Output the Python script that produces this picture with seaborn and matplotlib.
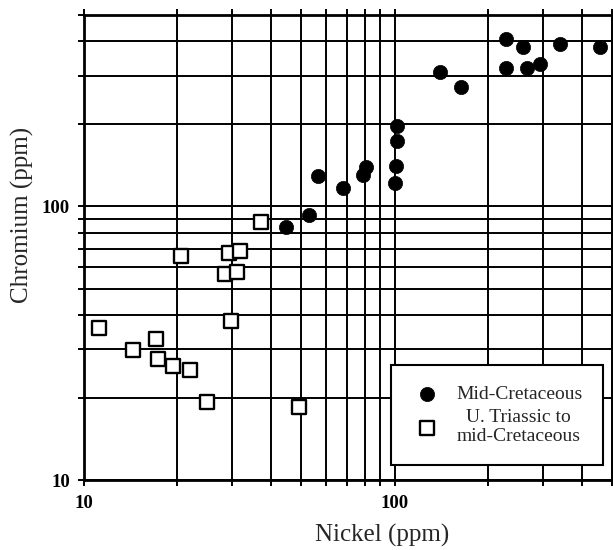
import seaborn as sns
import numpy as np
import pandas as pd
import matplotlib.pyplot as plt
from matplotlib.ticker import FixedLocator, NullFormatter

# Mid-Cretaceous samples (filled circles)
mid_ni = [229, 258, 340, 457, 229, 267, 294, 140, 163, 102, 102, 101, 100, 80.6, 79, 68, 56.8, 53, 44.7]
mid_cr = [409, 382, 392, 382, 320, 320, 331, 310, 273, 196, 173, 140, 122, 139, 130, 117, 129, 92.7, 83.8]

# U. Triassic to mid-Cretaceous samples (open squares)
tri_ni = [37.2, 20.6, 29.2, 31.8, 28.4, 31.0, 29.7, 11.2, 17.1, 14.4, 17.3, 19.3, 22.0, 24.8, 49.3]
tri_cr = [87.3, 65.6, 67.3, 68.5, 56.5, 57.5, 38.2, 36.0, 32.8, 29.9, 27.7, 26.2, 25.3, 19.3, 18.5]

grid_vals = [10, 20, 30, 40, 50, 60, 70, 80, 90, 100, 200, 300, 400, 500]
major_vals = [10, 100]
major_labels = ['10', '100']

sns.set_style("white")
plt.rcParams['font.family'] = ['Liberation Serif', 'DejaVu Serif']

df_mid = pd.DataFrame({'Nickel': mid_ni, 'Chromium': mid_cr})
df_tri = pd.DataFrame({'Nickel': tri_ni, 'Chromium': tri_cr})

fig = plt.figure(figsize=(6.13, 5.5), dpi=100)
ax = fig.add_axes([0.137, 0.127, 0.861, 0.846])

ax.set_xscale('log')
ax.set_yscale('log')
ax.set_xlim(10, 500)
ax.set_ylim(10, 500)

# grid lines at every value of the log paper
for v in grid_vals:
    ax.axvline(v, color='black', lw=1.4, zorder=1)
    ax.axhline(v, color='black', lw=1.4, zorder=1)

sns.scatterplot(data=df_mid, x='Nickel', y='Chromium', ax=ax, marker='o', s=105,
                color='black', edgecolor='black', linewidth=0.5, zorder=3,
                label='Mid-Cretaceous')
sns.scatterplot(data=df_tri, x='Nickel', y='Chromium', ax=ax, marker='s', s=95,
                color='white', edgecolor='black', linewidth=1.7, zorder=3,
                label='U. Triassic to\nmid-Cretaceous')

ax.xaxis.set_major_locator(FixedLocator(major_vals))
ax.yaxis.set_major_locator(FixedLocator(major_vals))
ax.set_xticklabels(major_labels)
ax.set_yticklabels(major_labels)
ax.xaxis.set_minor_locator(FixedLocator(grid_vals))
ax.yaxis.set_minor_locator(FixedLocator(grid_vals))
ax.xaxis.set_minor_formatter(NullFormatter())
ax.yaxis.set_minor_formatter(NullFormatter())
ax.tick_params(axis='both', which='both', direction='out', length=4, width=1.4,
               labelsize=13.5, colors='black', bottom=True, left=True, top=True)
ax.tick_params(axis='x', which='major', pad=7)
ax.tick_params(axis='y', which='major', pad=6)
for lab in ax.get_xticklabels() + ax.get_yticklabels():
    lab.set_fontweight('bold')

for sp in ax.spines.values():
    sp.set_linewidth(2)
    sp.set_color('black')

ax.set_xlabel('Nickel (ppm)', fontsize=18)
ax.set_ylabel('Chromium (ppm)', fontsize=18)
ax.xaxis.set_label_coords(0.565, -0.094, transform=ax.transAxes)
ax.yaxis.set_label_coords(-0.095, 0.57, transform=ax.transAxes)

leg = ax.legend(loc='lower right', bbox_to_anchor=(0.983, 0.032), fontsize=14,
                frameon=True, fancybox=False, edgecolor='black', framealpha=1,
                handletextpad=0.7, borderpad=1.05, labelspacing=0.3,
                handlelength=1.6, borderaxespad=0)
leg.get_frame().set_linewidth(1.5)
for t in leg.get_texts():
    t.set_multialignment('center')
    t.set_linespacing(1.15)

fig.savefig('out.png', dpi=100)
